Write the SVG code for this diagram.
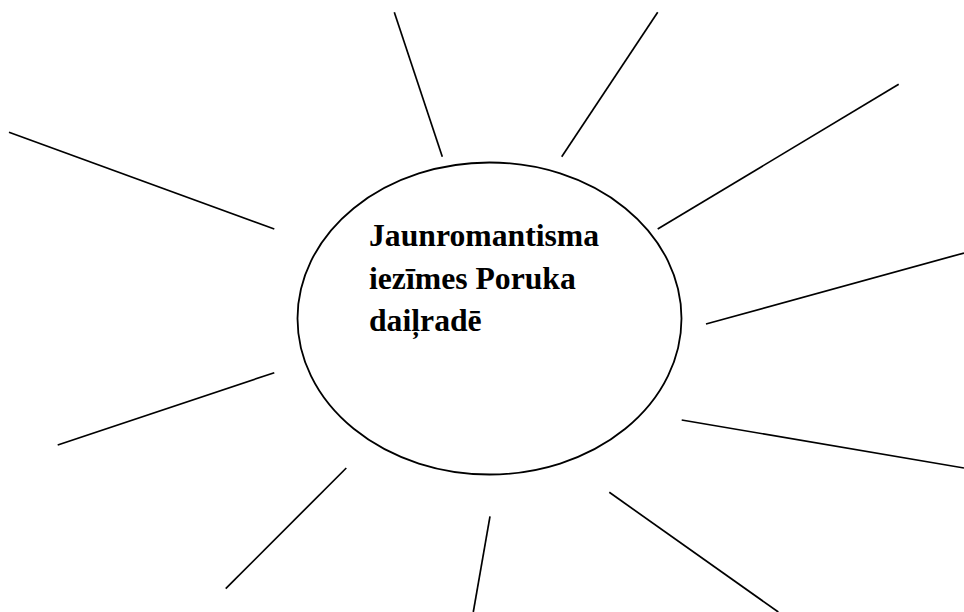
<svg xmlns="http://www.w3.org/2000/svg" width="964" height="612" viewBox="0 0 964 612">
<style>
.ray{stroke:#000;stroke-width:1.7;fill:none}
.hub{stroke:#000;stroke-width:1.8;fill:#fff}
.lbl{font-family:"Liberation Serif","Times New Roman",serif;font-weight:bold;font-size:31.7px;fill:#000}
</style>
<rect width="964" height="612" fill="#fff"/>
<g id="connectors">
<line class="ray" x1="9" y1="132.3" x2="274.3" y2="229"/>
<line class="ray" x1="394.3" y1="12.3" x2="442.3" y2="156.7"/>
<line class="ray" x1="657.7" y1="12.3" x2="561.7" y2="156.7"/>
<line class="ray" x1="898.7" y1="84.3" x2="657.7" y2="229"/>
<line class="ray" x1="964" y1="253" x2="706" y2="324"/>
<line class="ray" x1="681.7" y1="420" x2="964" y2="468"/>
<line class="ray" x1="609.3" y1="492.3" x2="778.3" y2="612"/>
<line class="ray" x1="490" y1="516.3" x2="473.3" y2="612"/>
<line class="ray" x1="346.3" y1="468" x2="225.7" y2="588.7"/>
<line class="ray" x1="274.3" y1="372.7" x2="57.7" y2="445"/>
</g>
<g id="center">
<ellipse class="hub" cx="489.5" cy="318.5" rx="192" ry="156"/>
<text class="lbl" x="369" y="246">Jaunromantisma</text>
<text class="lbl" x="369" y="288.5">iezīmes Poruka</text>
<text class="lbl" x="369" y="331">daiļradē</text>
</g>
</svg>
